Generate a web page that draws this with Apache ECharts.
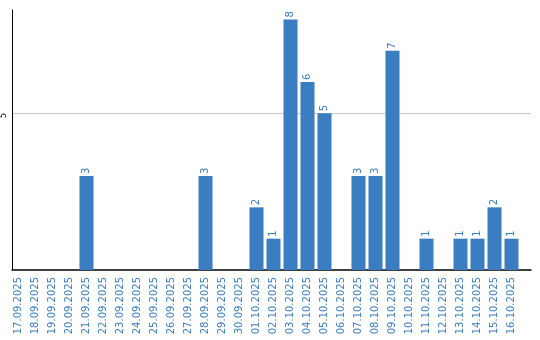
<!DOCTYPE html>
<html>
<head>
<meta charset="utf-8">
<script src="https://cdn.jsdelivr.net/npm/echarts@6/dist/echarts.min.js"></script>
<style>html,body{margin:0;padding:0;background:#fff}#c{width:540px;height:340px}</style>
</head>
<body>
<div id="c"></div>
<script>
const categories = ['17.09.2025','18.09.2025','19.09.2025','20.09.2025','21.09.2025','22.09.2025','23.09.2025','24.09.2025','25.09.2025','26.09.2025','27.09.2025','28.09.2025','29.09.2025','30.09.2025','01.10.2025','02.10.2025','03.10.2025','04.10.2025','05.10.2025','06.10.2025','07.10.2025','08.10.2025','09.10.2025','10.10.2025','11.10.2025','12.10.2025','13.10.2025','14.10.2025','15.10.2025','16.10.2025'];
const values = [0,0,0,0,3,0,0,0,0,0,0,3,0,0,2,1,8,6,5,0,3,3,7,0,1,0,1,1,2,1];
const yMin = 0;
const yMax = 8.3;
const yInterval = 5;

const blue = '#3a7dc1';
const chart = echarts.init(document.getElementById('c'), null, {renderer: 'canvas'});
chart.setOption({
  animation: false,
  textStyle: {fontFamily: 'DejaVu Sans'},
  grid: [
    {left: 10, right: 9, top: 10, bottom: 70, containLabel: false},
    {left: 10, right: 20, top: 10, bottom: 70, containLabel: false}
  ],
  xAxis: [
    {gridIndex: 0, type: 'value', min: 0, max: 1, axisLine: {show: true, onZero: false, lineStyle: {color: '#000', width: 1.5}},
     axisTick: {show: false}, axisLabel: {show: false}, splitLine: {show: false}},
    {gridIndex: 1, type: 'category', data: categories, axisLine: {show: false}, axisTick: {show: false},
     splitLine: {show: false},
     axisLabel: {rotate: 90, interval: 0, fontSize: 10, color: blue, margin: 7, fontFamily: 'DejaVu Sans'}}
  ],
  yAxis: [
    {gridIndex: 0, type: 'value', min: yMin, max: yMax, interval: yInterval,
     axisLine: {show: true, lineStyle: {color: '#000', width: 1}}, axisTick: {show: false},
     splitLine: {show: true, showMaxLine: false, showMinLine: false, lineStyle: {color: '#c8c8c8', width: 1}},
     axisLabel: {showMinLabel: false, showMaxLabel: false, rotate: 90, fontSize: 8, color: '#000', margin: 4,
       padding: [0, 4, 0, 0],
       formatter: v => (v === 0 ? '' : String(v))}},
    {gridIndex: 1, type: 'value', min: yMin, max: yMax, interval: yInterval, show: false, splitLine: {show: false}}
  ],
  series: [{
    type: 'bar', xAxisIndex: 1, yAxisIndex: 1, data: values, barWidth: 14,
    itemStyle: {color: blue},
    label: {show: true, position: 'top', rotate: 90, align: 'left', verticalAlign: 'middle', distance: 2,
      fontSize: 10, color: blue, fontFamily: 'DejaVu Sans', formatter: p => (p.value ? String(p.value) : '')}
  }]
});
</script>
</body>
</html>
